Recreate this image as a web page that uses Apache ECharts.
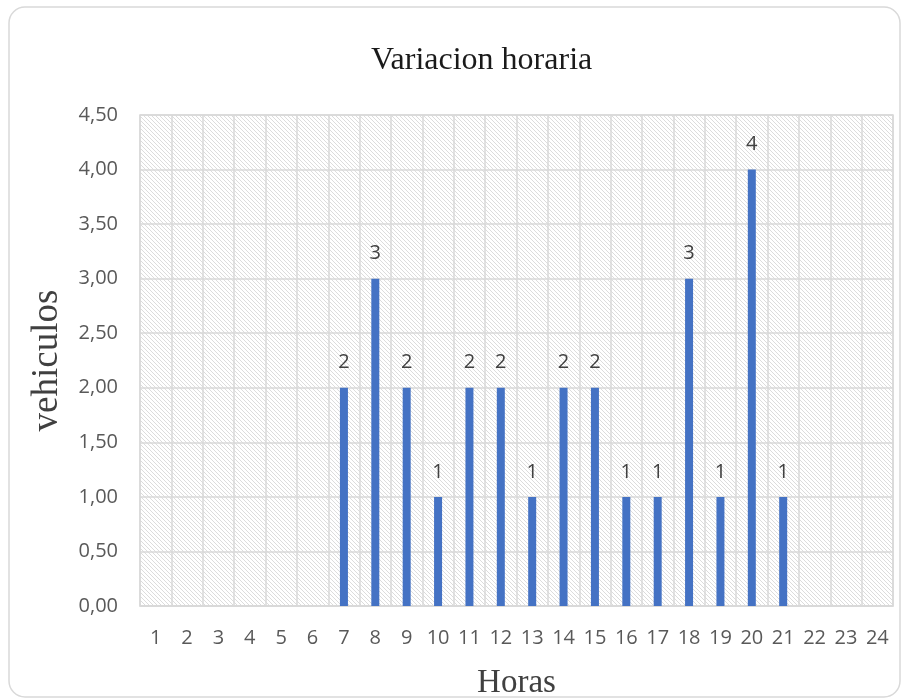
<!DOCTYPE html>
<html>
<head>
<meta charset="utf-8">
<script src="https://cdn.jsdelivr.net/npm/echarts@6/dist/echarts.min.js"></script>
<style>html,body{margin:0;padding:0;background:#fff;}#c{width:906px;height:700px;}</style>
</head>
<body>
<div id="c"></div>
<script>
const categories = ['1','2','3','4','5','6','7','8','9','10','11','12','13','14','15','16','17','18','19','20','21','22','23','24'];
const vehiculos = [null,null,null,null,null,null,2,3,2,1,2,2,1,2,2,1,1,3,1,4,1,null,null,null];
const yTicks = [0,0.5,1,1.5,2,2.5,3,3.5,4,4.5];

// hatch pattern (downward diagonal)
const pc = document.createElement('canvas');
pc.width = 8; pc.height = 8;
const px = pc.getContext('2d');
px.fillStyle = '#ffffff'; px.fillRect(0,0,8,8);
px.fillStyle = '#dcdcdc';
for (let y = 0; y < 8; y++) {
  for (let x = 0; x < 8; x++) {
    if (((x - y) % 4 + 4) % 4 === 0) px.fillRect(x, y, 1, 1);
  }
}

const chart = echarts.init(document.getElementById('c'));
chart.setOption({
  animation: false,
  title: {
    text: 'Variacion horaria', left: 366, top: 40,
    textStyle: { fontFamily: 'Liberation Serif', fontSize: 32, fontWeight: 'normal', color: '#1a1a1a' }
  },
  graphic: [{
    type: 'rect', shape: { x: 9, y: 7, width: 891, height: 690, r: 16 },
    style: { fill: 'none', stroke: '#d9d9d9', lineWidth: 1.5 }, z: -10
  }],
  grid: {
    left: 140, right: 13, top: 115, bottom: 94, show: true,
    outerBoundsMode: 'none', containLabel: false,
    backgroundColor: { image: pc, repeat: 'repeat' }, borderColor: '#d9d9d9', borderWidth: 1.5
  },
  xAxis: {
    type: 'category', data: categories,
    name: 'Horas', nameLocation: 'middle', nameGap: 61,
    nameTextStyle: { fontFamily: 'Liberation Serif', fontSize: 33, color: '#404040' },
    axisLine: { lineStyle: { color: '#d9d9d9', width: 1.5 } },
    axisTick: { show: false },
    axisLabel: { fontFamily: 'Open Sans', fontSize: 20, color: '#595959', margin: 22 },
    splitLine: { show: true, interval: 0, lineStyle: { color: '#d9d9d9', width: 1.5 } }
  },
  yAxis: {
    type: 'value', min: 0, max: 4.5, interval: 0.5,
    name: 'vehiculos', nameLocation: 'middle', nameGap: 74,
    nameTextStyle: { fontFamily: 'Liberation Serif', fontSize: 37, color: '#404040' },
    axisLine: { show: false }, axisTick: { show: false },
    axisLabel: {
      fontFamily: 'Open Sans', fontSize: 20, color: '#595959', margin: 22,
      formatter: v => yTicks.includes(v) ? v.toFixed(2).replace('.', ',') : ''
    },
    splitLine: { lineStyle: { color: '#d9d9d9', width: 1.5 } }
  },
  series: [{
    type: 'bar', data: vehiculos, barWidth: 8,
    itemStyle: { color: '#4472c4' },
    label: { show: true, position: 'top', distance: 15, fontFamily: 'Open Sans', fontSize: 20, color: '#404040' }
  }]
});
</script>
</body>
</html>
